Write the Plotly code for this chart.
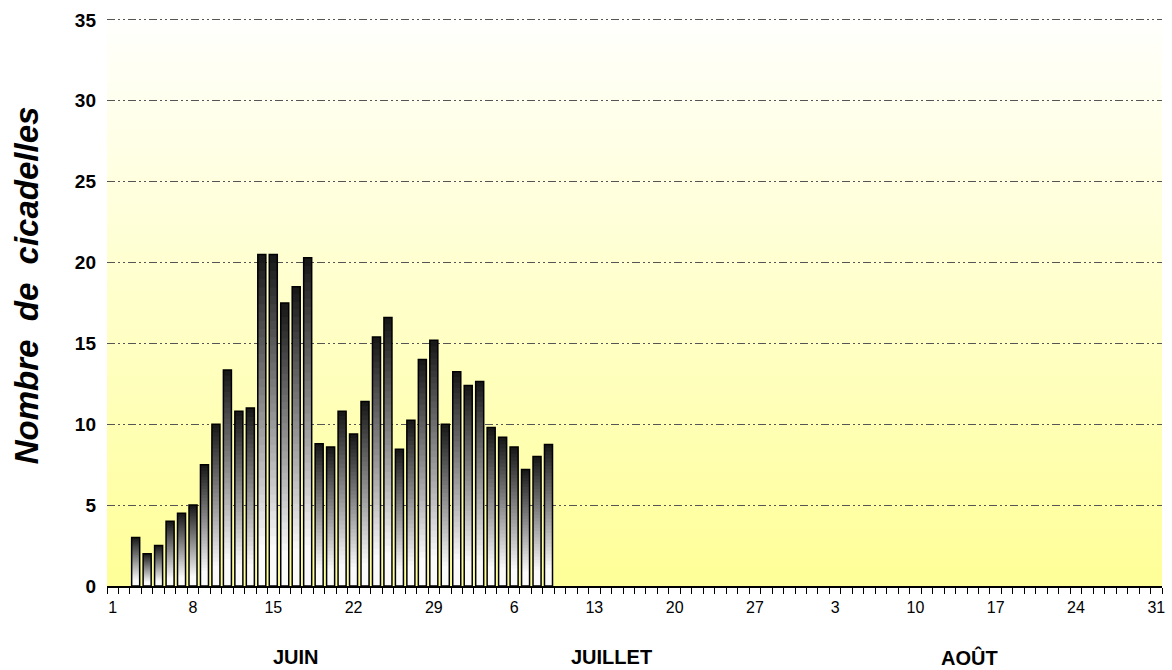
import plotly.graph_objects as go

# days of the season, index 0 = 1 juin ... 91 = 31 août
n_days = 92
tick_pos = list(range(0, n_days, 7))
tick_text = ['1', '8', '15', '22', '29', '6', '13', '20', '27', '3', '10', '17', '24', '31']

first_day = 2  # 3 juin
counts = [3, 2, 2.5, 4, 4.5, 5, 7.5, 10, 13.35, 10.8, 11, 20.5, 20.5, 17.5, 18.5, 20.3,
          8.8, 8.6, 10.8, 9.4, 11.4, 15.4, 16.6, 8.45, 10.25, 14, 15.2, 10,
          13.25, 12.4, 12.65, 9.8, 9.2, 8.6, 7.2, 8, 8.75]

months = ['JUIN', 'JUILLET', 'AOÛT']
month_pos = [16, 43.5, 74.7]

x_days = list(range(first_day, first_day + len(counts)))
FONT = "Arial, Liberation Sans, sans-serif"


def grey_at(h):
    # h: fraction of bar height (0 bottom, 1 top)
    f = max(0.0, (h - 0.12) / 0.88)
    g = int(250 - 228 * f)
    return f'rgb({g},{g},{g})'


fig = go.Figure()

# gradient bars: full dark bar first, then shorter and lighter bars on top
n_slices = 40
for k in range(n_slices):
    frac = (n_slices - k) / n_slices
    fig.add_trace(go.Bar(
        x=x_days,
        y=[v * frac for v in counts],
        width=0.7,
        marker=dict(color=grey_at(frac - 0.5 / n_slices), line=dict(width=0)),
        hoverinfo='skip',
        showlegend=False,
    ))

# outline
fig.add_trace(go.Bar(
    x=x_days, y=counts, width=0.7,
    marker=dict(color='rgba(0,0,0,0)', line=dict(color='black', width=1.5)),
    showlegend=False,
))

# plot-area background gradient: pale yellow at bottom to white at top
n_bands = 60
shapes = []
for k in range(n_bands):
    t = k / n_bands
    b = int(153 + 102 * t)
    shapes.append(dict(
        type='rect', xref='x domain', yref='y domain',
        x0=0, x1=1, y0=t, y1=(k + 1) / n_bands + 0.002,
        fillcolor=f'rgb(255,255,{b})', line=dict(width=0), layer='below',
    ))

annotations = [dict(
    x=p, y=-0.125, xref='x', yref='paper', text=f'<b>{m}</b>', showarrow=False,
    font=dict(family=FONT, size=20, color='black'), yanchor='middle',
) for m, p in zip(months, month_pos)]
annotations.append(dict(
    x=-0.0766, y=0.527, xref='paper', yref='paper', textangle=-90,
    xanchor='center', yanchor='middle',
    text='<b><i>Nombre\u00a0 de\u00a0 cicadelles</i></b>', showarrow=False,
    font=dict(family=FONT, size=33, color='black'),
))

fig.update_layout(
    width=1172, height=670,
    margin=dict(l=107, r=7, t=15, b=84),
    paper_bgcolor='white', plot_bgcolor='rgba(0,0,0,0)',
    barmode='overlay', bargap=0.3,
    shapes=shapes, annotations=annotations,
    font=dict(family=FONT, color='black'),
)
fig.update_xaxes(
    range=[-0.5, n_days - 0.5],
    tickmode='array', tickvals=tick_pos, ticktext=tick_text,
    ticks='', tickfont=dict(family=FONT, size=16, color='black'),
    ticklabelstandoff=6,
    showline=True, linecolor='black', linewidth=1.5,
    showgrid=False, zeroline=False,
    minor=dict(ticks='outside', tick0=-0.5, dtick=1, ticklen=6,
               tickcolor='black', tickwidth=1.2, showgrid=False),
)
fig.update_yaxes(
    range=[0, 35.3], tickmode='linear', tick0=0, dtick=5,
    tickfont=dict(family=FONT, size=19, color='black', weight='bold'),
    showgrid=True, gridcolor='#555555', gridwidth=1,
    griddash='8px,3px,2px,3px,2px,3px',
    showline=False, zeroline=False, ticks='', ticklabelstandoff=10,
)

fig.write_html("out.html", config={'displayModeBar': False},
               post_script="document.body.style.margin='0';")
